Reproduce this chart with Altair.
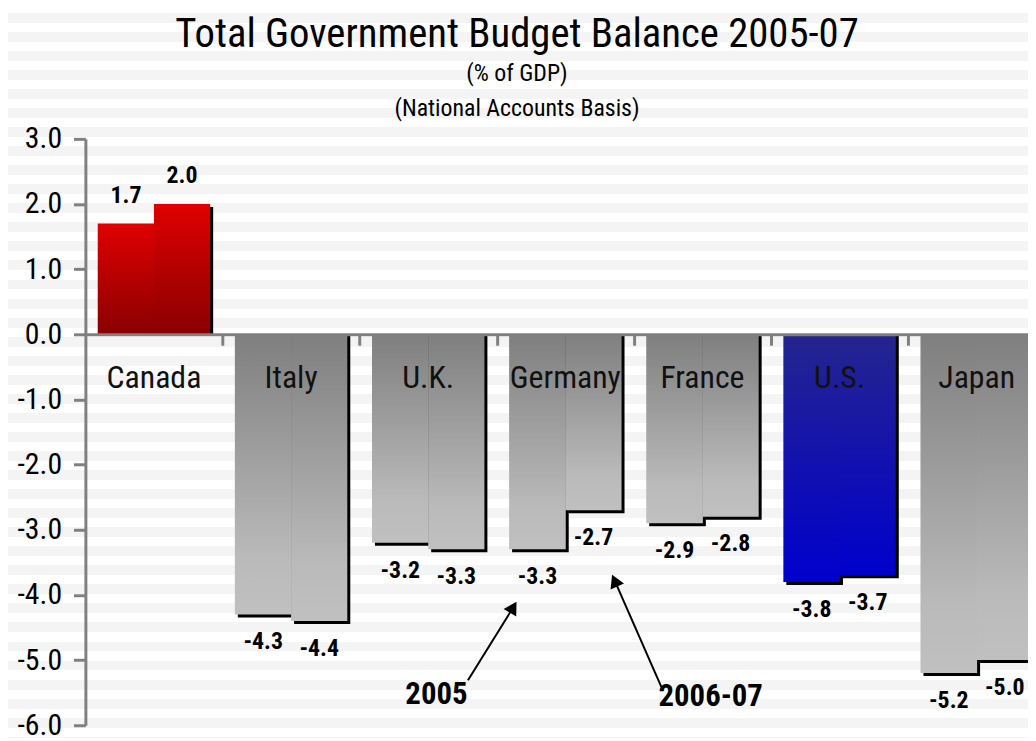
import altair as alt
import pandas as pd

# ---------------- data ----------------
countries = ["Canada", "Italy", "U.K.", "Germany", "France", "U.S.", "Japan"]
bal_2005 = [1.7, -4.3, -3.2, -3.3, -2.9, -3.8, -5.2]
bal_2006_07 = [2.0, -4.4, -3.3, -2.7, -2.8, -3.7, -5.0]
series_names = ["2005", "2006-07"]
colour_group = ["red", "gray", "gray", "gray", "gray", "blue", "gray"]
y_ticks = [-6, -5, -4, -3, -2, -1, 0, 1, 2, 3]

# annotation arrows (x in country-slot units, y in % of GDP)
ann_labels = ["2005", "2006-07"]
ann_text_x = [2.56, 4.56]
ann_text_y = [-5.53, -5.57]
ann_tail_x = [2.79, 4.20]
ann_tail_y = [-5.31, -5.41]
ann_head_x = [3.12, 3.86]
ann_head_y = [-4.19, -3.78]
ann_head_angle = [31, 336]

# ---------------- layout / style ----------------
FONT = "Roboto Condensed, Liberation Sans Narrow, Arial Narrow, Roboto, sans-serif"
W, H = 950, 591
PAD_L, PAD_T, PAD_B = 78, 129, 13
SLOT_PX = 138.2
X_MAX = W / SLOT_PX
Y_MIN, Y_MAX = -6, 3
ZERO_FROM_TOP = H * (Y_MAX - 0) / (Y_MAX - Y_MIN)
BAR_EDGES = {"2005": (0.09, 0.503), "2006-07": (0.5, 0.91)}

rows = []
for i, c in enumerate(countries):
    for s, vals in zip(series_names, [bal_2005, bal_2006_07]):
        a, b = BAR_EDGES[s]
        v = vals[i]
        rows.append({"country": c, "series": s, "v": v, "grp": colour_group[i],
                     "x0": i + a, "x1": i + b, "xc": i + (a + b) / 2,
                     "lbl": f"{v:.1f}"})
df = pd.DataFrame(rows)
cat_df = pd.DataFrame({"country": countries, "xm": [i + 0.5 for i in range(len(countries))]})
ann_df = pd.DataFrame({"label": ann_labels, "tx": ann_text_x, "ty": ann_text_y,
                       "x0": ann_tail_x, "y0": ann_tail_y, "x1": ann_head_x,
                       "y1": ann_head_y, "ang": ann_head_angle})

# background stripes as a gradient
TOT_H = PAD_T + H + PAD_B
stops = [alt.GradientStop(color="#ffffff", offset=0)]
k = 0
while True:
    a = (2 + 19.2 * k) / TOT_H
    b = min((12 + 19.2 * k) / TOT_H, 1)
    if a >= 1:
        break
    stops += [alt.GradientStop(color="#ffffff", offset=a), alt.GradientStop(color="#f4f4f4", offset=a),
              alt.GradientStop(color="#f4f4f4", offset=b), alt.GradientStop(color="#ffffff", offset=b)]
    k += 1
stripe_grad = alt.LinearGradient(gradient="linear", stops=stops, x1=0, x2=0, y1=0, y2=1)

stripes = alt.Chart(pd.DataFrame({"a": [0]})).mark_rect(fill=stripe_grad).encode(
    x=alt.value(-PAD_L), x2=alt.value(W), y=alt.value(-PAD_T), y2=alt.value(H + PAD_B))

x_enc = alt.X("x0:Q", scale=alt.Scale(domain=[0, X_MAX], nice=False, zero=False),
              axis=alt.Axis(values=[1, 2, 3, 4, 5, 6], labels=False, title=None, grid=False,
                            domainColor="#808080", domainWidth=3, tickColor="#808080",
                            tickWidth=3, tickSize=11, offset=-(H - ZERO_FROM_TOP), zindex=1))
y_enc = alt.Y("v:Q", scale=alt.Scale(domain=[Y_MIN, Y_MAX], nice=False),
              axis=alt.Axis(values=y_ticks, title=None, grid=False,
                            labelExpr="datum.value < 0 ? '-' + format(-datum.value, '.1f') : format(datum.value, '.1f')",
                            domainColor="#808080", domainWidth=3, tickColor="#808080",
                            tickWidth=3, tickSize=12, labelFont=FONT, labelFontSize=30,
                            labelColor="black", labelPadding=12, zindex=1))

base = alt.Chart(df)
shadow = base.mark_bar(color="black", xOffset=3, x2Offset=3, yOffset=3, clip=True).encode(
    x=x_enc, x2="x1:Q", y=y_enc, y2=alt.datum(0))


def grad(c_top, c_mid, c_bot):
    st = [alt.GradientStop(color=c_top, offset=0)]
    if c_mid:
        st.append(alt.GradientStop(color=c_mid, offset=0.8))
    st.append(alt.GradientStop(color=c_bot, offset=1))
    return alt.LinearGradient(gradient="linear", stops=st, x1=0, x2=0, y1=0, y2=1)


def bars(group, g):
    return base.transform_filter(alt.datum.grp == group).mark_bar(fill=g, clip=True).encode(
        x="x0:Q", x2="x1:Q", y="v:Q", y2=alt.datum(0))


gray_bars = bars("gray", grad("#7f7f7f", "#bababa", "#c0c0c0"))
red_bars = bars("red", grad("#e00000", None, "#8a0000"))
blue_bars = bars("blue", grad("#25258e", None, "#0000cd"))

lbl_kw = dict(font=FONT, fontSize=24, fontWeight="bold", color="black", baseline="middle", align="center")
pos_lbl = base.transform_filter(alt.datum.v >= 0).mark_text(dy=-28, **lbl_kw).encode(
    x="xc:Q", y="v:Q", text="lbl:N")
neg_lbl = base.transform_filter(alt.datum.v < 0).mark_text(dy=28, **lbl_kw).encode(
    x="xc:Q", y="v:Q", text="lbl:N")

cat_lbl = alt.Chart(cat_df).mark_text(font=FONT, fontSize=32, color="#111111", dy=44,
                                      baseline="middle", align="center").encode(
    x="xm:Q", y=alt.datum(0), text="country:N")

arrow_line = alt.Chart(ann_df).mark_rule(color="black", strokeWidth=2).encode(
    x="x0:Q", y="y0:Q", x2="x1:Q", y2="y1:Q")
arrow_head = alt.Chart(ann_df).mark_point(shape="triangle-up", filled=True, color="black",
                                          opacity=1, size=220).encode(
    x="x1:Q", y="y1:Q", angle=alt.Angle("ang:Q", scale=None))
ann_text = alt.Chart(ann_df).mark_text(font=FONT, fontSize=31, fontWeight="bold", color="black",
                                       baseline="middle", align="center").encode(
    x="tx:Q", y="ty:Q", text="label:N")

chart = alt.layer(
    stripes, shadow, gray_bars, red_bars, blue_bars, pos_lbl, neg_lbl, cat_lbl,
    arrow_line, arrow_head, ann_text
).properties(
    width=W, height=H,
    autosize=alt.AutoSizeParams(type="none"),
    padding={"left": PAD_L, "top": PAD_T, "right": 0, "bottom": PAD_B},
    background="white",
    title=alt.TitleParams(
        text="Total Government Budget Balance 2005-07",
        subtitle=["(% of GDP)", "(National Accounts Basis)"],
        font=FONT, fontSize=41, fontWeight="normal", color="black",
        subtitleFont=FONT, subtitleFontSize=24, subtitleFontWeight="normal",
        subtitleColor="black", subtitleLineHeight=35, subtitlePadding=7,
        anchor="middle", dx=-40, offset=-112, zindex=1),
).configure_view(strokeWidth=0)

chart.save("out.html", embed_options={"renderer": "svg", "actions": False})
